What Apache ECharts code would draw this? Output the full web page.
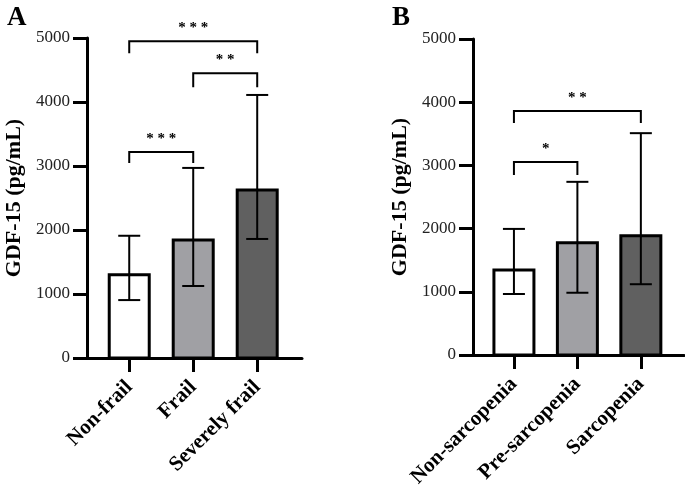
<!DOCTYPE html>
<html>
<head>
<meta charset="utf-8">
<script src="https://cdn.jsdelivr.net/npm/echarts@6/dist/echarts.min.js"></script>
<style>
  html, body { margin: 0; padding: 0; background: #fff; }
  #chart { width: 685px; height: 493px; }
</style>
</head>
<body>
<div id="chart"></div>
<script>
// panel A: frailty groups
const catsA = ['Non-frail', 'Frail', 'Severely frail'];
const meanA = [1300, 1845, 2625];
const lowA = [905, 1125, 1860];
const highA = [1910, 2970, 4110];
// [from, to, line level, leg end, label]
const bracketsA = [[0, 2, 4950, 4760, '* * *'], [1, 2, 4450, 4230, '* *'], [0, 1, 3220, 3045, '* * *']];

// panel B: sarcopenia groups
const catsB = ['Non-sarcopenia', 'Pre-sarcopenia', 'Sarcopenia'];
const meanB = [1345, 1775, 1885];
const lowB = [965, 985, 1120];
const highB = [1995, 2740, 3510];
const bracketsB = [[0, 2, 3860, 3670, '* *'], [0, 1, 3055, 2850, '*']];

const yTicks = [0, 1000, 2000, 3000, 4000, 5000];
const fills = ['#ffffff', '#a0a0a4', '#606060'];

const serif = "Liberation Serif";

const chart = echarts.init(document.getElementById('chart'));

function barItem(params, api) {
  const x = api.value(0);
  const top = api.coord([x, api.value(1)]);
  const base = api.coord([x, 0]);
  return {
    type: 'rect',
    shape: { x: top[0] - 20, y: top[1], width: 40, height: base[1] - top[1] },
    style: { fill: fills[x], stroke: '#000', lineWidth: 3 }
  };
}

function errItem(params, api) {
  const x = api.value(0);
  const lo = api.coord([x, api.value(1)]);
  const hi = api.coord([x, api.value(2)]);
  const st = { stroke: '#000', lineWidth: 2 };
  return {
    type: 'group',
    children: [
      { type: 'line', shape: { x1: lo[0], y1: lo[1], x2: hi[0], y2: hi[1] }, style: st },
      { type: 'line', shape: { x1: hi[0] - 11, y1: hi[1], x2: hi[0] + 11, y2: hi[1] }, style: st },
      { type: 'line', shape: { x1: lo[0] - 11, y1: lo[1], x2: lo[0] + 11, y2: lo[1] }, style: st }
    ]
  };
}

function bracketItem(labels) {
  return function (params, api) {
    const a = api.coord([api.value(0), api.value(2)]);
    const b = api.coord([api.value(1), api.value(2)]);
    const legA = api.coord([api.value(0), api.value(3)]);
    const st = { stroke: '#000', lineWidth: 2, fill: null };
    return {
      type: 'group',
      children: [
        {
          type: 'polyline',
          shape: { points: [[a[0], legA[1]], a, b, [b[0], legA[1]]] },
          style: st
        },
        {
          type: 'text',
          x: (a[0] + b[0]) / 2,
          y: a[1] - 13,
          style: {
            text: labels[params.dataIndex],
            font: 'bold 15px "Liberation Serif"',
            fill: '#000',
            align: 'center',
            verticalAlign: 'middle'
          }
        }
      ]
    };
  };
}

function panel(idx, cats, mean, low, high, brackets) {
  const bars = mean.map((v, i) => [i, v]);
  const errs = mean.map((v, i) => [i, low[i], high[i]]);
  const br = brackets.map(b => [b[0], b[1], b[2], b[3]]);
  const brLabels = brackets.map(b => b[4]);
  return [
    { type: 'custom', xAxisIndex: idx, yAxisIndex: idx, data: bars, renderItem: barItem, z: 2, silent: true },
    { type: 'custom', xAxisIndex: idx, yAxisIndex: idx, data: errs, renderItem: errItem, z: 3, silent: true },
    { type: 'custom', xAxisIndex: idx, yAxisIndex: idx, data: br, renderItem: bracketItem(brLabels), z: 3, silent: true, clip: false }
  ];
}

function xAxis(idx, cats, min, max) {
  return {
    type: 'value',
    gridIndex: idx,
    min: min,
    max: max,
    splitLine: { show: false },
    axisLine: { onZero: false, lineStyle: { color: '#000', width: 3 } },
    axisTick: { show: true, customValues: [0, 1, 2], length: 14, lineStyle: { color: '#000', width: 3 } },
    axisLabel: {
      customValues: [0, 1, 2],
      formatter: v => cats[Math.round(v)],
      rotate: 45,
      margin: 26,
      fontFamily: serif,
      fontWeight: 'bold',
      fontSize: 21,
      color: '#000'
    }
  };
}

function yAxis(idx) {
  return {
    type: 'value',
    gridIndex: idx,
    min: yTicks[0],
    max: yTicks[yTicks.length - 1],
    interval: 1000,
    name: 'GDF-15 (pg/mL)',
    nameLocation: 'middle',
    nameGap: 62,
    nameTextStyle: { fontFamily: serif, fontWeight: 'bold', fontSize: 22, color: '#000' },
    splitLine: { show: false },
    axisLine: { show: true, onZero: false, lineStyle: { color: '#000', width: 3 } },
    axisTick: { show: true, length: 14, lineStyle: { color: '#000', width: 3 } },
    axisLabel: { margin: 17, fontFamily: serif, fontSize: 17, color: '#222', formatter: v => String(v) }
  };
}

const option = {
  animation: false,
  backgroundColor: '#fff',
  textStyle: { fontFamily: serif },
  title: [
    { text: 'A', left: 2, top: 0, textStyle: { fontFamily: serif, fontWeight: 'bold', fontSize: 27, color: '#000' } },
    { text: 'B', left: 387, top: 0, textStyle: { fontFamily: serif, fontWeight: 'bold', fontSize: 27, color: '#000' } }
  ],
  grid: [
    { left: 87, top: 38, width: 215, height: 320 },
    { left: 473, top: 39, width: 211, height: 316 }
  ],
  xAxis: [xAxis(0, catsA, -0.66, 2.70), xAxis(1, catsB, -0.645, 2.68)],
  yAxis: [yAxis(0), yAxis(1)],
  series: [
    ...panel(0, catsA, meanA, lowA, highA, bracketsA),
    ...panel(1, catsB, meanB, lowB, highB, bracketsB)
  ]
};

chart.setOption(option);
window.addEventListener('resize', () => chart.resize());
</script>
</body>
</html>
